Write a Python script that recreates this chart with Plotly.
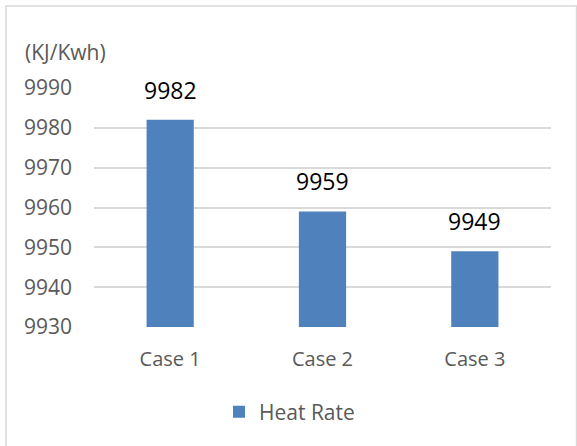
import plotly.graph_objects as go

categories = ["Case 1", "Case 2", "Case 3"]
heat_rate = [9982, 9959, 9949]
y_ticks = [9930, 9940, 9950, 9960, 9970, 9980, 9990]
series_name = "Heat Rate"
unit_label = "(KJ/Kwh)"

W, H = 577, 446
L, R, T, B = 94, 26, 88, 119
pw, ph = W - L - R, H - T - B

def px_x(p):
    return (p - L) / pw

def px_y(p):
    return (H - B - p) / ph

FONT = "Open Sans"
GREY = "#595959"
BAR = "#4F81BD"

fig = go.Figure()
fig.add_trace(go.Bar(
    x=categories, y=heat_rate, name=series_name,
    marker=dict(color=BAR, line=dict(width=0)),
    showlegend=True,
))

for c, v in zip(categories, heat_rate):
    fig.add_annotation(x=c, y=v, text=str(v), showarrow=False,
                       yanchor="bottom", yshift=12,
                       font=dict(family=FONT, size=23, color="#000000"))

fig.add_annotation(xref="paper", yref="paper", x=px_x(23), y=px_y(52),
                   xanchor="left", yanchor="middle", text=unit_label,
                   showarrow=False, font=dict(family=FONT, size=21, color=GREY))

fig.add_shape(type="rect", xref="paper", yref="paper",
              x0=px_x(6), x1=px_x(576.5), y0=px_y(460), y1=px_y(6),
              line=dict(color="#D9D9D9", width=1.5), fillcolor="rgba(0,0,0,0)",
              layer="below")

fig.update_layout(
    width=W, height=H,
    margin=dict(l=L, r=R, t=T, b=B, pad=0, autoexpand=False),
    paper_bgcolor="white", plot_bgcolor="white",
    bargap=0.69,
    font=dict(family=FONT, color=GREY, size=20),
    xaxis=dict(showgrid=False, showline=False, zeroline=False,
               ticks="", tickfont=dict(size=20, color=GREY), ticklabelstandoff=18),
    yaxis=dict(range=[9930, 9990], tickvals=y_ticks, tickformat="d",
               showgrid=True, gridcolor="#D9D9D9", gridwidth=1.5,
               showline=False, zeroline=False,
               ticks="", tickfont=dict(size=21, color=GREY), ticklabelstandoff=21),
    legend=dict(orientation="h", x=px_x(219), y=px_y(412), xanchor="left",
                yanchor="middle", font=dict(size=21, color=GREY),
                itemwidth=30, bgcolor="rgba(0,0,0,0)"),
)

fig.write_html("out.html", config={"displayModeBar": False},
               post_script="document.body.style.margin='0';document.body.style.overflow='hidden';")
